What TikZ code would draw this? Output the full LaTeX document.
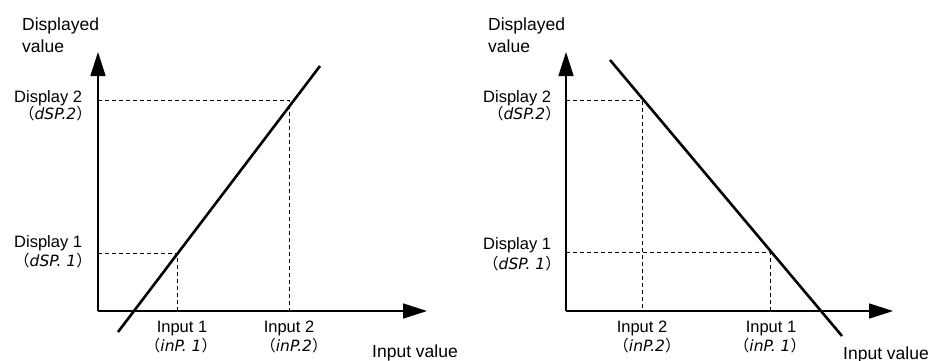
\documentclass[tikz,border=0pt]{standalone}
\usepackage{fontspec}
\setmainfont{Liberation Sans}
\newfontfamily\cjkfont{Noto Sans CJK JP}
\newfontfamily\segfont{DejaVu Sans}
\usetikzlibrary{arrows.meta}
\newcommand{\segtext}[1]{{\cjkfont （}{\segfont\itshape #1}{\cjkfont ）}}
\begin{document}
\begin{tikzpicture}[x=1pt,y=-1pt,
  axis/.style={line width=1.6pt, -{Triangle[length=24pt,width=15pt]}},
  graph/.style={line width=2.6pt},
  guide/.style={line width=0.8pt, dash pattern=on 4pt off 3pt},
  big/.style={font=\fontsize{17.5}{20}\selectfont, inner sep=0pt, anchor=base west},
  tick/.style={font=\fontsize{16.5}{18}\selectfont, inner sep=0pt},
  seg/.style={font=\fontsize{15.5}{17}\selectfont, inner sep=0pt},
]
\useasboundingbox (0,0) rectangle (933,360);

% ---------- left graph ----------
\coordinate (O1) at (98,311);
\coordinate (Y1) at (98,52);
\coordinate (X1) at (427,311);
\coordinate (La) at (118,332);
\coordinate (Lb) at (320,66);
\coordinate (P1) at (177,253);
\coordinate (P2) at (289,100);

\draw[guide] (O1|-P1) -- (P1) -- (P1|-O1);
\draw[guide] (O1|-P2) -- (P2) -- (P2|-O1);
\draw[axis] (O1) -- (Y1);
\draw[axis] (O1) -- (X1);
\draw[graph] (La) -- (Lb);

\node[big] (dv1a) at (22,30) {Displayed};
\node[big] (dv1b) at (22,52) {value};
\node[tick, anchor=base west] (d2l) at (14,102) {Display 2};
\node[seg, anchor=base east] (d2s) at (92,119) {\segtext{dSP.2}};
\node[tick, anchor=base west] (d1l) at (14,247) {Display 1};
\node[seg, anchor=base east] (d1s) at (92,266) {\segtext{dSP.~1}};
\node[tick, anchor=base] (i1l) at (182,332) {Input 1};
\node[seg, anchor=base] (i1s) at (181,351) {\segtext{inP.~1}};
\node[tick, anchor=base] (i2l) at (289,332) {Input 2};
\node[seg, anchor=base] (i2s) at (294,351) {\segtext{inP.2}};
\node[big] (iv1) at (372,357) {Input value};

% ---------- right graph ----------
\coordinate (O2) at (566,311);
\coordinate (Y2) at (566,52);
\coordinate (X2) at (893,311);
\coordinate (Ma) at (610,60);
\coordinate (Mb) at (842,336);
\coordinate (Q2) at (642,100);
\coordinate (Q1) at (770,252);

\draw[guide] (O2|-Q2) -- (Q2) -- (Q2|-O2);
\draw[guide] (O2|-Q1) -- (Q1) -- (Q1|-O2);
\draw[axis] (O2) -- (Y2);
\draw[axis] (O2) -- (X2);
\draw[graph] (Ma) -- (Mb);

\node[big] (dv2a) at (488,30) {Displayed};
\node[big] (dv2b) at (488,52) {value};
\node[tick, anchor=base west] (e2l) at (483,102) {Display 2};
\node[seg, anchor=base east] (e2s) at (561,119) {\segtext{dSP.2}};
\node[tick, anchor=base west] (e1l) at (483,249) {Display 1};
\node[seg, anchor=base east] (e1s) at (561,269) {\segtext{dSP.~1}};
\node[tick, anchor=base] (j2l) at (642,332) {Input 2};
\node[seg, anchor=base] (j2s) at (647,351) {\segtext{inP.2}};
\node[tick, anchor=base] (j1l) at (771,332) {Input 1};
\node[seg, anchor=base] (j1s) at (770,351) {\segtext{inP.~1}};
\node[big] (iv2) at (843,359) {Input value};
\end{tikzpicture}
\end{document}
